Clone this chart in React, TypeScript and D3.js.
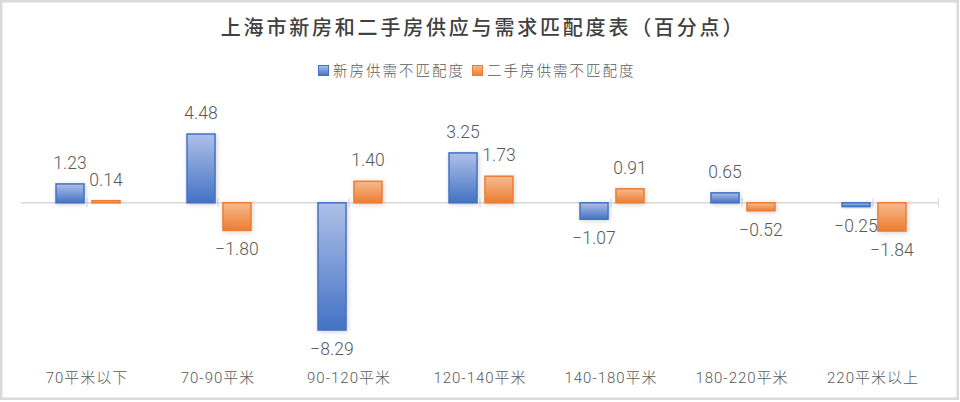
import React from "react";
import * as d3 from "d3";

const categories = ["70平米以下", "70-90平米", "90-120平米", "120-140平米", "140-180平米", "180-220平米", "220平米以上"];
const seriesNames = ["新房供需不匹配度", "二手房供需不匹配度"];
const newHouse = [1.23, 4.48, -8.29, 3.25, -1.07, 0.65, -0.25];
const secondHand = [0.14, -1.8, 1.4, 1.73, 0.91, -0.52, -1.84];
const title = "上海市新房和二手房供应与需求匹配度表（百分点）";

const W = 960;
const H = 402;
const numFont = "Roboto, 'Liberation Sans', 'Noto Sans CJK SC', sans-serif";
const cjkFont = "'Noto Sans CJK SC', sans-serif";
const textColor = "#595959";

const fmt = (v: number) => (v < 0 ? "\u2212" + Math.abs(v).toFixed(2) : v.toFixed(2));

export default function App() {
  const x = d3.scaleBand<string>().domain(categories).range([21.5, 938.5]).padding(0);
  const x1 = d3.scaleBand<string>().domain(seriesNames).range([0, 64]).paddingInner(0.22);
  const y = d3.scaleLinear().domain([-9, 5]).range([202.8 + 9 * 15.35, 202.8 - 5 * 15.35]);
  const y0 = y(0);
  const bw = x.bandwidth();
  const data = [newHouse, secondHand];
  const colors = [
    { light: "#aec0e8", dark: "#4472c4", stroke: "#4472c4", id: "gBlue" },
    { light: "#f6bb90", dark: "#ed7d31", stroke: "#ed7d31", id: "gOrange" },
  ];

  const ticks = [...categories.map((c) => (x(c) as number) + bw / 2), 938.5];

  return (
    <svg width={W} height={H} style={{ position: "absolute", left: 0, top: 0, background: "#fff" }}>
      <defs>
        {colors.map((c) => (
          <linearGradient key={c.id} id={c.id} x1="0" y1="0" x2="0" y2="1">
            <stop offset="0" stopColor={c.light} />
            <stop offset="1" stopColor={c.dark} />
          </linearGradient>
        ))}
        <filter id="shadow" x="-50%" y="-50%" width="200%" height="200%">
          <feGaussianBlur in="SourceAlpha" stdDeviation="2.5" />
          <feOffset dx="1" dy="1" result="b" />
          <feComponentTransfer>
            <feFuncA type="linear" slope="0.18" />
          </feComponentTransfer>
          <feMerge>
            <feMergeNode />
            <feMergeNode in="SourceGraphic" />
          </feMerge>
        </filter>
      </defs>
      <rect x={1.25} y={1.25} width={W - 3.5} height={H - 4.5} fill="#fff" stroke="#d9d9d9" strokeWidth={2.5} />

      <text x={483} y={35} textAnchor="middle" fontFamily={cjkFont} fontSize={20} fontWeight={500} letterSpacing={2.8} fill="#404040">
        {title}
      </text>

      {/* legend */}
      <g>
        <rect x={318.5} y={65.5} width={10} height={10} fill="url(#gBlue)" stroke="#4472c4" strokeWidth={1} />
        <text x={333} y={76} fontFamily={cjkFont} fontSize={14.5} fontWeight={300} letterSpacing={2} fill={textColor}>{seriesNames[0]}</text>
        <rect x={472.5} y={65.5} width={10} height={10} fill="url(#gOrange)" stroke="#ed7d31" strokeWidth={1} />
        <text x={487} y={76} fontFamily={cjkFont} fontSize={14.5} fontWeight={300} letterSpacing={2} fill={textColor}>{seriesNames[1]}</text>
      </g>

      {/* axis */}
      <line x1={21} x2={938.5} y1={y0} y2={y0} stroke="#d9d9d9" strokeWidth={1.5} />
      {ticks.map((t, i) => (
        <line key={i} x1={t} x2={t} y1={y0 - 4.5} y2={y0 + 4.5} stroke="#d9d9d9" strokeWidth={1.2} />
      ))}

      {/* bars */}
      {categories.map((cat, i) => {
        const cx = (x(cat) as number) + bw / 2;
        return seriesNames.map((s, k) => {
          const v = data[k][i];
          const bx = cx - 31 + (x1(s) as number);
          const w = x1.bandwidth();
          const top = Math.min(y(v), y0);
          const h = Math.abs(y(v) - y0);
          return (
            <rect key={cat + s} x={bx} y={top} width={w} height={h} fill={`url(#${colors[k].id})`} stroke={colors[k].stroke} strokeWidth={1.5} filter="url(#shadow)" />
          );
        });
      })}

      {/* value labels */}
      {categories.map((cat, i) => {
        const cx = (x(cat) as number) + bw / 2;
        return seriesNames.map((s, k) => {
          const v = data[k][i];
          const bx = cx - 31 + (x1(s) as number) + x1.bandwidth() / 2;
          const ly = v >= 0 ? y(v) - 15 : y(v) + 25;
          return (
            <text key={"l" + cat + s} x={bx} y={ly} textAnchor="middle" fontFamily={numFont} fontSize={17.5} fontWeight={300} fill={textColor}>
              {fmt(v)}
            </text>
          );
        });
      })}

      {/* category labels */}
      {categories.map((cat) => (
        <text key={"c" + cat} x={(x(cat) as number) + bw / 2} y={383} textAnchor="middle" fontFamily={numFont} fontSize={15} fontWeight={300} letterSpacing={1} fill={textColor}>
          {cat}
        </text>
      ))}
    </svg>
  );
}
